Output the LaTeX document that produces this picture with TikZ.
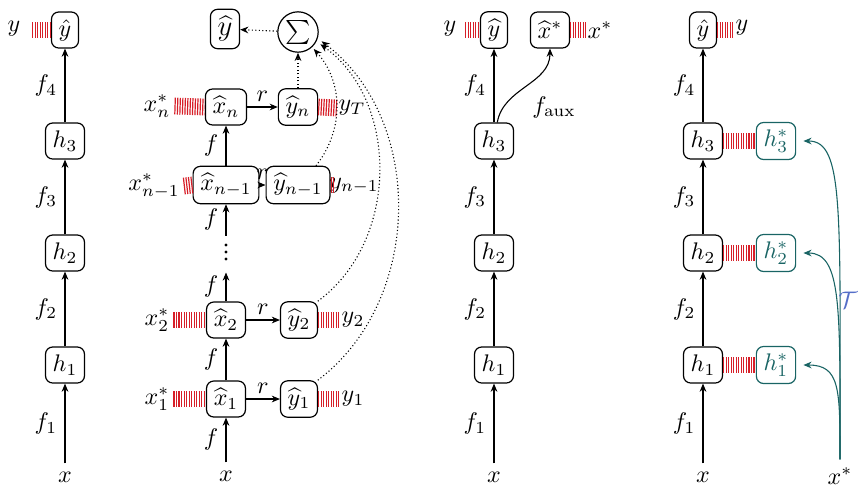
\documentclass[tikz,border=0pt]{standalone}
\usetikzlibrary{arrows.meta,calc}
\definecolor{tealc}{RGB}{25,100,100}
\definecolor{tcal}{RGB}{85,110,200}
\definecolor{hatchred}{RGB}{215,30,40}
\begin{document}
\begin{tikzpicture}[x=0.41667pt,y=-0.41667pt,
  box/.style={draw, rounded corners=3pt, minimum height=15pt, inner sep=3pt, line width=0.5pt},
  tbox/.style={box, draw=tealc, text=tealc},
  arr/.style={-{Stealth[length=3.4pt,width=2.8pt]}, line width=0.45pt},
  tarr/.style={arr, draw=tealc, shorten >=3pt},
  dotarr/.style={arr, densely dotted},
  hatch/.style={draw=hatchred, line width=7pt, dash pattern=on 0.5pt off 0.55pt},
  lab/.style={inner sep=1.5pt},
  rlab/.style={inner sep=0.5pt},
  fl/.style={midway, left, inner sep=3pt},
  rl/.style={midway, above, inner sep=2pt},
]
\useasboundingbox (0,0) rectangle (858,486);

% ---------- column 1 ----------
\node[box] (a0) at (65,30) {$\hat{y}$};
\node[box] (a3) at (65,141) {$h_3$};
\node[box] (a2) at (65,253) {$h_2$};
\node[box] (a1) at (65,365) {$h_1$};
\node (ax) at (65,477) {$x$};
\node (ay) at (14,29) {$y$};
\coordinate (ah) at (32,30);
\draw[hatch] (ah) -- (a0.west);
\draw[arr] (ax) -- node[fl]{$f_1$} (a1);
\draw[arr] (a1) -- node[fl]{$f_2$} (a2);
\draw[arr] (a2) -- node[fl]{$f_3$} (a3);
\draw[arr] (a3) -- node[fl]{$f_4$} (a0);

% ---------- column 2 ----------
\node[box,font=\large] (b0) at (225,29) {$\widehat{y}$};
\node[draw,circle,inner sep=0.8pt,line width=0.5pt] (sum) at (298,32) {$\sum$};
\node[box] (bxn) at (226,107) {$\widehat{x}_n$};
\node[box] (byn) at (298,107) {$\widehat{y}_n$};
\node[box] (bxm) at (226,185) {$\widehat{x}_{n-1}$};
\node[box] (bym) at (298,185) {$\widehat{y}_{n-1}$};
\node[inner sep=0, minimum width=4pt, minimum height=15pt] (dots) at (226,254) {};
\foreach \d in {-9,-2,5} \fill ($(dots.center)+(0,\d)$) circle (0.7pt);
\node[box] (bx2) at (226,320) {$\widehat{x}_2$};
\node[box] (by2) at (299,320) {$\widehat{y}_2$};
\node[box] (bx1) at (226,399) {$\widehat{x}_1$};
\node[box] (by1) at (299,399) {$\widehat{y}_1$};
\node (bx) at (226,476) {$x$};

\node[lab] (lxn) at (157,106) {$x_n^*$};
\node[lab] (lxm) at (154,186) {$x_{n-1}^*$};
\node[lab] (lx2) at (157,320) {$x_2^*$};
\node[lab] (lx1) at (157,399) {$x_1^*$};
\node[rlab] (ryn) at (352,108) {$y_T$};
\node[rlab] (rym) at (354,186) {$y_{n-1}$};
\node[rlab] (ry2) at (353,320) {$y_2$};
\node[rlab] (ry1) at (353,399) {$y_1$};
\coordinate (rmh) at ($(bym.east)+(3,0)$);

\draw[hatch] (lxn.east) -- (bxn.west);
\draw[hatch] (lxm.east) -- (bxm.west);
\draw[hatch] (lx2.east) -- (bx2.west);
\draw[hatch] (lx1.east) -- (bx1.west);
\draw[hatch] (byn.east) -- (ryn.west);
\draw[hatch] (bym.east) -- (rmh);
\draw[hatch] (by2.east) -- (ry2.west);
\draw[hatch] (by1.east) -- (ry1.west);

\draw[arr] (bx) -- node[fl]{$f$} (bx1);
\draw[arr] (bx1) -- node[fl]{$f$} (bx2);
\draw[arr] (bx2) -- node[fl]{$f$} (dots);
\draw[arr] (dots) -- node[fl]{$f$} (bxm);
\draw[arr] (bxm) -- node[fl]{$f$} (bxn);

\draw[arr] (bxn) -- node[rl]{$r$} (byn);
\draw[arr] (bxm) -- node[rl]{$r$} (bym);
\draw[arr] (bx2) -- node[rl]{$r$} (by2);
\draw[arr] (bx1) -- node[rl]{$r$} (by1);

\draw[dotarr] (sum) -- (b0);
\draw[dotarr] (byn) -- (sum);
\draw[dotarr, shorten >=1pt] (bym.47) to[bend right=40] (sum.-47);
\draw[dotarr, shorten >=2pt] (by2.45) to[bend right=54] (sum.-27);
\draw[dotarr, shorten >=2pt] (by1.45) to[bend right=53] (sum.-18);

% ---------- column 3 ----------
\node[box] (c0) at (494,30) {$\widehat{y}$};
\node[box] (cs) at (550,30) {$\widehat{x}^*$};
\node[box] (c3) at (494,141) {$h_3$};
\node[box] (c2) at (494,253) {$h_2$};
\node[box] (c1) at (494,365) {$h_1$};
\node (cx) at (494,477) {$x$};
\node (cy) at (450,29) {$y$};
\node (cxs) at (600,30) {$x^*$};
\coordinate (ch1) at (465,30);
\coordinate (ch2) at (587,30);
\draw[hatch] (ch1) -- (c0.west);
\draw[hatch] (cs.east) -- (ch2);
\draw[arr] (cx) -- node[fl]{$f_1$} (c1);
\draw[arr] (c1) -- node[fl]{$f_2$} (c2);
\draw[arr] (c2) -- node[fl]{$f_3$} (c3);
\draw[arr] (c3) -- node[fl]{$f_4$} (c0);
\draw[arr] (c3.80) to[out=80,in=-90] (cs.south);
\node (faux) at (554,107) {$f_{\mathrm{aux}}$};

% ---------- column 4 ----------
\node[box] (d0) at (703,30) {$\hat{y}$};
\node[box] (d3) at (703,141) {$h_3$};
\node[box] (d2) at (703,253) {$h_2$};
\node[box] (d1) at (703,365) {$h_1$};
\node (dx) at (703,477) {$x$};
\node (dy) at (742,28) {$y$};
\coordinate (dh) at (734,30);
\draw[hatch] (d0.east) -- (dh);
\node[tbox] (s3) at (776,141) {$h_3^*$};
\node[tbox] (s2) at (776,253) {$h_2^*$};
\node[tbox] (s1) at (776,365) {$h_1^*$};
\draw[hatch] (d3.east) -- (s3.west);
\draw[hatch] (d2.east) -- (s2.west);
\draw[hatch] (d1.east) -- (s1.west);
\draw[arr] (dx) -- node[fl]{$f_1$} (d1);
\draw[arr] (d1) -- node[fl]{$f_2$} (d2);
\draw[arr] (d2) -- node[fl]{$f_3$} (d3);
\draw[arr] (d3) -- node[fl]{$f_4$} (d0);
\node (xs) at (840,476) {$x^*$};
\draw[tarr] (xs.north) .. controls +(0,-250) and +(48,0) .. (s3.east);
\draw[tarr] (xs.north) .. controls +(0,-150) and +(46,0) .. (s2.east);
\draw[tarr] (xs.north) .. controls +(0,-70) and +(44,0) .. (s1.east);
\node[text=tcal] (T) at (848,300) {$\mathcal{T}$};
\end{tikzpicture}
\end{document}
